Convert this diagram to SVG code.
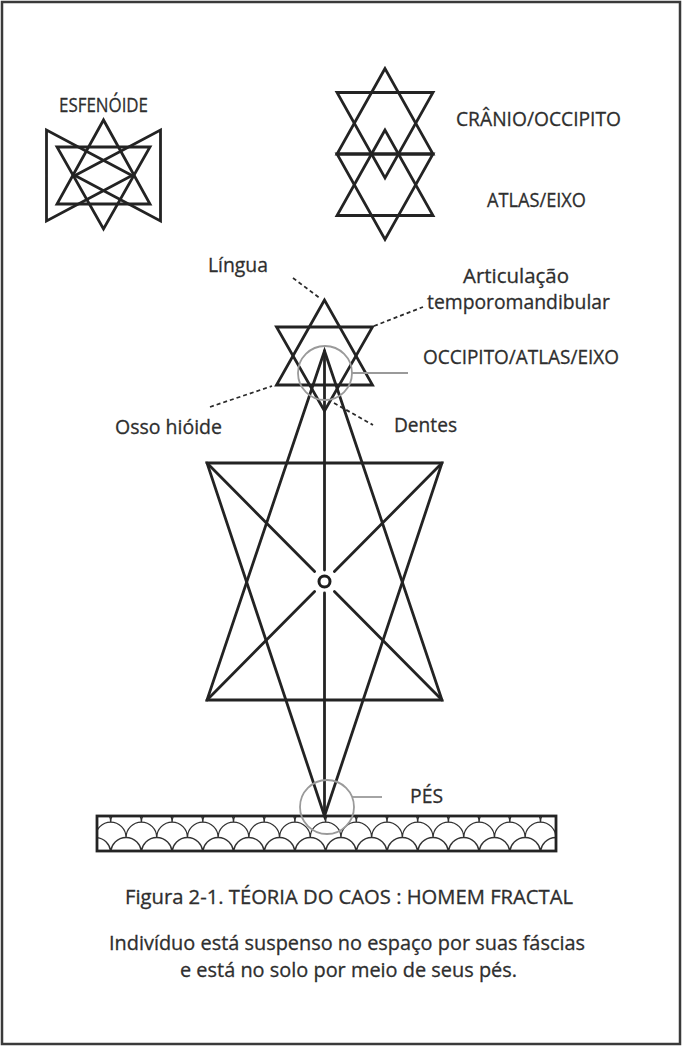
<svg xmlns="http://www.w3.org/2000/svg" width="682" height="1046" viewBox="0 0 682 1046">
<defs>
<style>
.ln{fill:none;stroke:#232323;stroke-width:2.8;stroke-linejoin:miter;stroke-linecap:round}
.gr{fill:none;stroke:#9a9a9a;stroke-width:1.8}
.ds{fill:none;stroke:#2a2a2a;stroke-width:1.8;stroke-dasharray:4 3}
.sc{fill:none;stroke:#333;stroke-width:1.3}
text{font-family:"Open Sans","Noto Sans","DejaVu Sans",sans-serif;font-size:20px;fill:#2e2e2e;stroke:#2e2e2e;stroke-width:0.3}
</style>
<clipPath id="gc"><rect x="97" y="816" width="459" height="35"/></clipPath>
</defs>
<rect width="682" height="1046" fill="#fff"/>
<rect x="2" y="2" width="678" height="1042" fill="none" stroke="#3a3a3a" stroke-width="2.5"/>

<g id="esfenoide">
<text x="59" y="112" textLength="89" lengthAdjust="spacingAndGlyphs">ESFENÓIDE</text>
<polygon class="ln" points="103.5,120 57,204 150,204"/>
<polygon class="ln" points="57,147 150,147 103.5,229"/>
<polygon class="ln" points="46.5,130 46.5,221 132,175.5"/>
<polygon class="ln" points="160.5,130 160.5,221 75,175.5"/>
</g>

<g id="cranio-atlas">
<polygon class="ln" points="385,68.5 337,154 433,154"/>
<polygon class="ln" points="337,92.5 433,92.5 385,178"/>
<polygon class="ln" points="385,130 337,215.5 433,215.5"/>
<polygon class="ln" points="337,154 433,154 385,239.5"/>
</g>
<g id="label-cranio"><text x="456" y="126" textLength="165" lengthAdjust="spacingAndGlyphs">CRÂNIO/OCCIPITO</text></g>
<g id="label-atlas"><text x="487" y="207" textLength="99" lengthAdjust="spacingAndGlyphs">ATLAS/EIXO</text></g>

<g id="ground">
<rect x="97" y="816" width="459" height="35" fill="#fff"/>
<g clip-path="url(#gc)">
<path class="sc" d="M49.3 822.15a15.35 15.35 0 0 1 30.7 0a15.35 15.35 0 0 1 30.7 0a15.35 15.35 0 0 1 30.7 0a15.35 15.35 0 0 1 30.7 0a15.35 15.35 0 0 1 30.7 0a15.35 15.35 0 0 1 30.7 0a15.35 15.35 0 0 1 30.7 0a15.35 15.35 0 0 1 30.7 0a15.35 15.35 0 0 1 30.7 0a15.35 15.35 0 0 1 30.7 0a15.35 15.35 0 0 1 30.7 0a15.35 15.35 0 0 1 30.7 0a15.35 15.35 0 0 1 30.7 0a15.35 15.35 0 0 1 30.7 0a15.35 15.35 0 0 1 30.7 0a15.35 15.35 0 0 1 30.7 0a15.35 15.35 0 0 1 30.7 0a15.35 15.35 0 0 1 30.7 0"/>
<path class="sc" d="M64.65 837.5a15.35 15.35 0 0 1 30.7 0a15.35 15.35 0 0 1 30.7 0a15.35 15.35 0 0 1 30.7 0a15.35 15.35 0 0 1 30.7 0a15.35 15.35 0 0 1 30.7 0a15.35 15.35 0 0 1 30.7 0a15.35 15.35 0 0 1 30.7 0a15.35 15.35 0 0 1 30.7 0a15.35 15.35 0 0 1 30.7 0a15.35 15.35 0 0 1 30.7 0a15.35 15.35 0 0 1 30.7 0a15.35 15.35 0 0 1 30.7 0a15.35 15.35 0 0 1 30.7 0a15.35 15.35 0 0 1 30.7 0a15.35 15.35 0 0 1 30.7 0a15.35 15.35 0 0 1 30.7 0a15.35 15.35 0 0 1 30.7 0"/>
<path class="sc" d="M49.3 852.85a15.35 15.35 0 0 1 30.7 0a15.35 15.35 0 0 1 30.7 0a15.35 15.35 0 0 1 30.7 0a15.35 15.35 0 0 1 30.7 0a15.35 15.35 0 0 1 30.7 0a15.35 15.35 0 0 1 30.7 0a15.35 15.35 0 0 1 30.7 0a15.35 15.35 0 0 1 30.7 0a15.35 15.35 0 0 1 30.7 0a15.35 15.35 0 0 1 30.7 0a15.35 15.35 0 0 1 30.7 0a15.35 15.35 0 0 1 30.7 0a15.35 15.35 0 0 1 30.7 0a15.35 15.35 0 0 1 30.7 0a15.35 15.35 0 0 1 30.7 0a15.35 15.35 0 0 1 30.7 0a15.35 15.35 0 0 1 30.7 0a15.35 15.35 0 0 1 30.7 0"/>
</g>
<rect class="ln" x="97" y="816" width="459" height="35"/>
</g>

<g id="fractal-man">
<polygon class="ln" points="324.5,300 276.5,385 372.5,385"/>
<polygon class="ln" points="276.5,327 372.5,327 324.5,411"/>
<polygon class="ln" points="324.5,351 207,700 442,700"/>
<polygon class="ln" points="207,463 442,463 324.5,816"/>
<line class="ln" x1="207" y1="463" x2="314.6" y2="571.6"/>
<line class="ln" x1="334.4" y1="591.4" x2="442" y2="700"/>
<line class="ln" x1="442" y1="463" x2="334.4" y2="571.6"/>
<line class="ln" x1="314.6" y1="591.4" x2="207" y2="700"/>
<line class="ln" x1="324.5" y1="351" x2="324.5" y2="570"/>
<line class="ln" x1="324.5" y1="593" x2="324.5" y2="816"/>
<circle cx="324.5" cy="581.5" r="5.5" fill="none" stroke="#1e1e1e" stroke-width="3"/>
</g>

<g id="connectors">
<circle class="gr" cx="325" cy="373" r="27"/>
<line class="gr" x1="352" y1="373" x2="408" y2="373"/>
<circle class="gr" cx="327" cy="807" r="27"/>
<line class="gr" x1="352" y1="797" x2="382" y2="797"/>
<line class="ds" x1="293" y1="278" x2="321" y2="299"/>
<line class="ds" x1="374" y1="326" x2="423" y2="307"/>
<line class="ds" x1="210" y1="407" x2="272" y2="386"/>
<line class="ds" x1="334" y1="403" x2="373" y2="425"/>
</g>

<g id="label-lingua"><text x="208" y="272" textLength="60" lengthAdjust="spacingAndGlyphs">Língua</text></g>
<g id="label-atm">
<text x="463" y="283" textLength="106" lengthAdjust="spacingAndGlyphs">Articulação</text>
<text x="427" y="309" textLength="183" lengthAdjust="spacingAndGlyphs">temporomandibular</text>
</g>
<g id="label-oae"><text x="423" y="364" textLength="196" lengthAdjust="spacingAndGlyphs">OCCIPITO/ATLAS/EIXO</text></g>
<g id="label-hioide"><text x="115" y="434" textLength="107" lengthAdjust="spacingAndGlyphs">Osso hióide</text></g>
<g id="label-dentes"><text x="394" y="432" textLength="63" lengthAdjust="spacingAndGlyphs">Dentes</text></g>
<g id="label-pes"><text x="410" y="803" textLength="33" lengthAdjust="spacingAndGlyphs">PÉS</text></g>

<g id="caption">
<text x="125" y="904" textLength="448" lengthAdjust="spacingAndGlyphs">Figura 2-1. TÉORIA DO CAOS : HOMEM FRACTAL</text>
<text x="109" y="950" textLength="476" lengthAdjust="spacingAndGlyphs">Indivíduo está suspenso no espaço por suas fáscias</text>
<text x="180" y="977" textLength="337" lengthAdjust="spacingAndGlyphs">e está no solo por meio de seus pés.</text>
</g>
</svg>
